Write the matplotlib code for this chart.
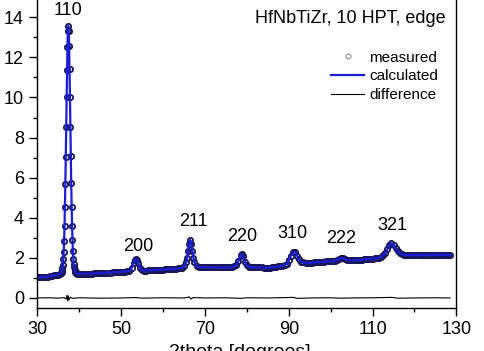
import numpy as np
import matplotlib
matplotlib.use("Agg")
import matplotlib.pyplot as plt
from matplotlib.ticker import MultipleLocator

plt.rcParams['font.family'] = ['Liberation Sans', 'DejaVu Sans']

# measured pattern (2theta in degrees, intensity in arb. units)
two_theta = [
    30.0, 30.5, 31.0, 31.5, 32.0, 32.5, 33.0, 33.5, 34.0, 34.5, 35.0, 35.5,
    35.6, 35.7, 35.8, 35.9, 36.0, 36.1, 36.2, 36.3, 36.4, 36.5, 36.6, 36.7, 36.8, 36.9,
    37.0, 37.1, 37.2, 37.3, 37.4, 37.5, 37.6, 37.7, 37.8, 37.9,
    38.0, 38.1, 38.2, 38.3, 38.4, 38.5, 38.6, 38.7, 38.8, 38.9,
    39.0, 39.1, 39.2, 39.3, 39.4,
    39.5, 40.0, 40.5, 41.0, 41.5, 42.0, 42.5, 43.0, 43.5, 44.0, 44.5, 45.0,
    45.5, 46.0, 46.5, 47.0, 47.5, 48.0, 48.5, 49.0, 49.5, 50.0, 50.5, 51.0,
    51.5, 52.0, 52.5, 53.0, 53.25, 53.5, 53.75, 54.0, 54.5, 55.0, 55.5, 56.0,
    56.5, 57.0, 57.5, 58.0, 58.5, 59.0, 59.5, 60.0, 60.5, 61.0, 61.5, 62.0,
    62.5, 63.0, 63.5, 64.0, 64.5, 65.0, 65.5, 65.75, 66.0, 66.25, 66.5, 66.75,
    67.0, 67.25, 67.5, 68.0, 68.5, 69.0, 69.5, 70.0, 70.5, 71.0, 71.5, 72.0,
    72.5, 73.0, 73.5, 74.0, 74.5, 75.0, 75.5, 76.0, 76.5, 77.0, 77.5, 78.0,
    78.5, 78.75, 79.0, 79.5, 80.0, 80.5, 81.0, 81.5, 82.0, 82.5, 83.0, 83.5,
    84.0, 84.5, 85.0, 85.5, 86.0, 86.5, 87.0, 87.5, 88.0, 88.5, 89.0, 89.5,
    90.0, 90.5, 91.0, 91.5, 92.0, 92.5, 93.0, 93.5, 94.0, 94.5, 95.0, 95.5,
    96.0, 96.5, 97.0, 97.5, 98.0, 98.5, 99.0, 99.5, 100.0, 100.5, 101.0, 101.5,
    102.0, 102.5, 103.0, 103.5, 104.0, 104.5, 105.0, 105.5, 106.0, 106.5, 107.0, 107.5,
    108.0, 108.5, 109.0, 109.5, 110.0, 110.5, 111.0, 111.5, 112.0, 112.5, 113.0, 113.5,
    114.0, 114.5, 115.0, 115.5, 116.0, 116.5, 117.0, 117.5, 118.0, 118.5, 119.0, 119.5,
    120.0, 120.5, 121.0, 121.5, 122.0, 122.5, 123.0, 123.5, 124.0, 124.5, 125.0, 125.5,
    126.0, 126.5, 127.0, 127.5, 128.0, 128.5]

measured = [
    1.03, 1.04, 1.04, 1.05, 1.06, 1.07, 1.08, 1.11, 1.13, 1.15, 1.17, 1.22,
    1.23, 1.26, 1.30, 1.37, 1.49, 1.65, 1.92, 2.30, 2.84, 3.57, 4.53, 5.68, 7.04, 8.51,
    10.00, 11.39, 12.53, 13.29, 13.56, 13.31, 12.56, 11.42, 10.03, 8.54,
    7.07, 5.71, 4.56, 3.60, 2.87, 2.33, 1.95, 1.68, 1.52, 1.40,
    1.33, 1.29, 1.26, 1.25, 1.23,
    1.22, 1.21, 1.21, 1.21, 1.21, 1.21, 1.22, 1.22, 1.23, 1.23, 1.24, 1.24,
    1.25, 1.25, 1.26, 1.27, 1.27, 1.28, 1.29, 1.29, 1.30, 1.30, 1.31, 1.32,
    1.33, 1.36, 1.49, 1.75, 1.90, 1.94, 1.90, 1.76, 1.51, 1.39, 1.37, 1.37,
    1.38, 1.38, 1.39, 1.39, 1.40, 1.41, 1.41, 1.42, 1.43, 1.43, 1.44, 1.45,
    1.46, 1.46, 1.47, 1.49, 1.51, 1.57, 1.77, 1.99, 2.33, 2.70, 2.89, 2.70,
    2.34, 1.99, 1.78, 1.59, 1.55, 1.54, 1.53, 1.53, 1.53, 1.53, 1.53, 1.53,
    1.52, 1.52, 1.52, 1.52, 1.52, 1.52, 1.52, 1.53, 1.55, 1.57, 1.64, 1.84,
    2.12, 2.17, 2.08, 1.81, 1.63, 1.56, 1.54, 1.53, 1.52, 1.52, 1.52, 1.52,
    1.51, 1.50, 1.50, 1.51, 1.52, 1.54, 1.55, 1.57, 1.59, 1.61, 1.65, 1.71,
    1.87, 2.10, 2.29, 2.29, 2.10, 1.92, 1.81, 1.77, 1.75, 1.74, 1.75, 1.76,
    1.77, 1.78, 1.79, 1.80, 1.80, 1.81, 1.82, 1.82, 1.83, 1.84, 1.86, 1.90,
    1.96, 1.99, 1.97, 1.93, 1.90, 1.88, 1.87, 1.88, 1.89, 1.90, 1.90, 1.91,
    1.92, 1.93, 1.94, 1.95, 1.96, 1.97, 1.99, 2.01, 2.05, 2.12, 2.24, 2.42,
    2.62, 2.72, 2.65, 2.47, 2.32, 2.23, 2.18, 2.15, 2.14, 2.14, 2.14, 2.14,
    2.14, 2.14, 2.14, 2.14, 2.14, 2.14, 2.14, 2.14, 2.14, 2.14, 2.15, 2.15,
    2.15, 2.15, 2.15, 2.15, 2.15, 2.15]

# the fit lies on top of the data at this scale
calculated = list(measured)

# difference curve (obs - calc)
diff_theta = [30, 33, 35, 36.5, 36.9, 37.1, 37.3, 37.4, 37.6, 37.9, 38.5, 40, 45, 50,
              53.5, 55, 60, 65, 66.3, 66.7, 67.2, 70, 75, 78.5, 80, 85, 91, 92, 95,
              100, 102.5, 105, 110, 114.5, 116, 120, 125, 128.5]
diff_vals = [0.0, 0.01, -0.01, 0.02, -0.06, 0.14, -0.16, 0.10, -0.08, 0.04, -0.02, 0.01,
             -0.01, 0.0, 0.02, -0.01, 0.01, 0.0, 0.05, -0.05, 0.02, 0.0, 0.01, -0.02,
             0.01, 0.0, 0.03, -0.02, 0.0, 0.01, -0.01, 0.0, 0.01, 0.03, -0.01, 0.0,
             0.01, 0.0]

peak_labels = ['110', '200', '211', '220', '310', '222', '321']
label_x = [37.3, 54.0, 67.2, 78.9, 90.8, 102.6, 114.8]
label_y = [14.35, 2.59, 3.79, 3.09, 3.24, 2.98, 3.63]

fig = plt.figure(figsize=(4.84, 3.51), dpi=100)
ax = fig.add_axes([0.077, 0.1225, 0.866, 0.8775])

ax.plot(two_theta, measured, 'o', ms=3.8, mfc='none', mec='#181858', mew=1.3,
        label='measured')
ax.plot(two_theta, calculated, '-', color='#1c1cd0', lw=1.6, label='calculated')
ax.plot(diff_theta, diff_vals, '-', color='black', lw=0.8, label='difference')

for t, x, y in zip(peak_labels, label_x, label_y):
    ax.text(x, y, t, ha='center', va='center', fontsize=13)

ax.text(0.975, 0.94, 'HfNbTiZr, 10 HPT, edge', transform=ax.transAxes,
        ha='right', va='center', fontsize=13)

leg = ax.legend(loc='upper right', bbox_to_anchor=(0.956, 0.835), frameon=False,
                fontsize=11, handlelength=2.15, handletextpad=0.33, labelspacing=0.3,
                borderpad=0, borderaxespad=0)
# legend marker for measured is drawn small and grey
leg.legend_handles[0].set_markersize(3.5)
leg.legend_handles[0].set_markeredgewidth(0.8)
leg.legend_handles[0].set_markeredgecolor('#888888')

ax.set_xlim(30, 130)
ax.set_ylim(-0.5, 14.86)
ax.set_xticks(np.arange(30, 131, 20))
ax.xaxis.set_minor_locator(MultipleLocator(10))
ax.yaxis.set_major_locator(MultipleLocator(2))
ax.yaxis.set_minor_locator(MultipleLocator(1))
ax.tick_params(which='both', direction='out', labelsize=13, width=1)
ax.tick_params(which='major', length=6)
ax.tick_params(which='minor', length=3)
ax.spines['top'].set_visible(False)
for s in ['left', 'bottom', 'right']:
    ax.spines[s].set_linewidth(1)

fig.text(0.496, 0.02, '2theta [degrees]', ha='center', va='top', fontsize=14)

fig.savefig('out.png', dpi=100)
